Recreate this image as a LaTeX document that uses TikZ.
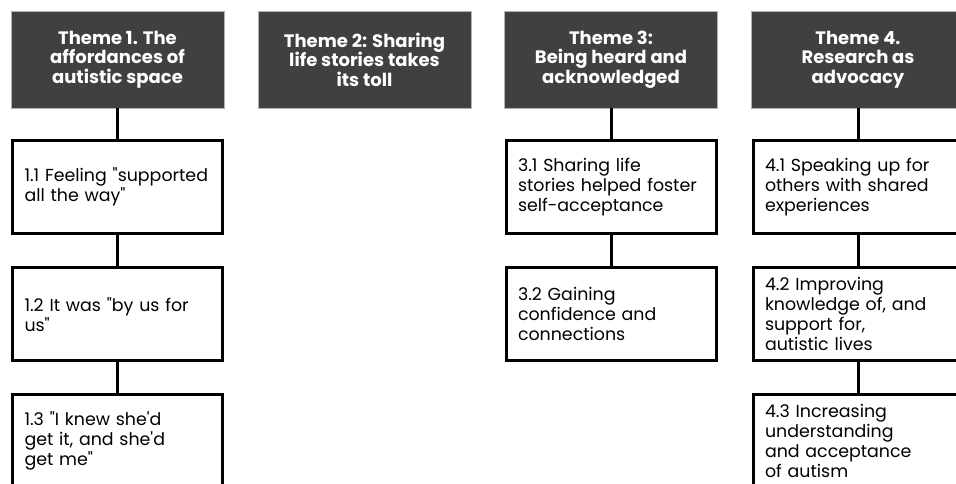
\documentclass[tikz,border=0pt]{standalone}
\usepackage{fontspec}
\setmainfont{Poppins}[Ligatures=TeXOff]
\usepackage{xcolor}
\usepackage{tikz}
\usetikzlibrary{positioning}
\definecolor{themegray}{HTML}{404040}
\tikzstyle{theme} = [fill=themegray, draw=gray!60, line width=0.6pt, text=white, font=\bfseries\fontsize{18}{19.5}\selectfont, align=center, minimum width=213pt, minimum height=97pt, inner sep=0pt]
\tikzstyle{sub} = [draw, line width=3pt, fill=white, font=\fontsize{17.4}{20}\selectfont, align=left, text width=186pt, minimum height=93pt, inner xsep=12pt, inner ysep=0pt]
\tikzstyle{link} = [line width=3pt]

\begin{document}
\begin{tikzpicture}[x=1pt,y=-1pt,node distance=31pt]
	\useasboundingbox (0,0) rectangle (956,484);
	\clip (0,0) rectangle (956,484);

	% Theme headers:
	% One dark box per theme, placed at the top of its column
	\node[theme] (t1) at (117.5,59.5) {Theme 1. The\\affordances of\\autistic space};
	\node[theme] (t2) at (364.5,59.5) {Theme 2: Sharing\\life stories takes\\its toll};
	\node[theme] (t3) at (611,59.5)   {Theme 3:\\Being heard and\\acknowledged};
	\node[theme] (t4) at (858,59.5)   {Theme 4.\\Research as\\advocacy};

	% Subthemes:
	% Stacked below their theme
	\node[sub, below=of t1]  (s11) {1.1 Feeling "supported\\all the way"};
	\node[sub, below=of s11] (s12) {1.2 It was "by us for\\us"};
	\node[sub, below=of s12] (s13) {1.3 "I knew she'd\\get it, and she'd\\get me"};

	\node[sub, below=of t3]  (s31) {3.1 Sharing life\\stories helped foster\\self-acceptance};
	\node[sub, below=of s31] (s32) {3.2 Gaining\\confidence and\\connections};

	\node[sub, below=of t4]  (s41) {4.1 Speaking up for\\others with shared\\experiences};
	\node[sub, below=of s41] (s42) {4.2 Improving\\knowledge of, and\\support for,\\autistic lives};
	\node[sub, below=of s42] (s43) {4.3 Increasing\\understanding\\and acceptance\\of autism};

	% Connectors:
	\foreach \a/\b in {t1/s11,s11/s12,s12/s13,t3/s31,s31/s32,t4/s41,s41/s42,s42/s43}{%
		\draw[link] (\a) -- (\b);
	}
\end{tikzpicture}
\end{document}
